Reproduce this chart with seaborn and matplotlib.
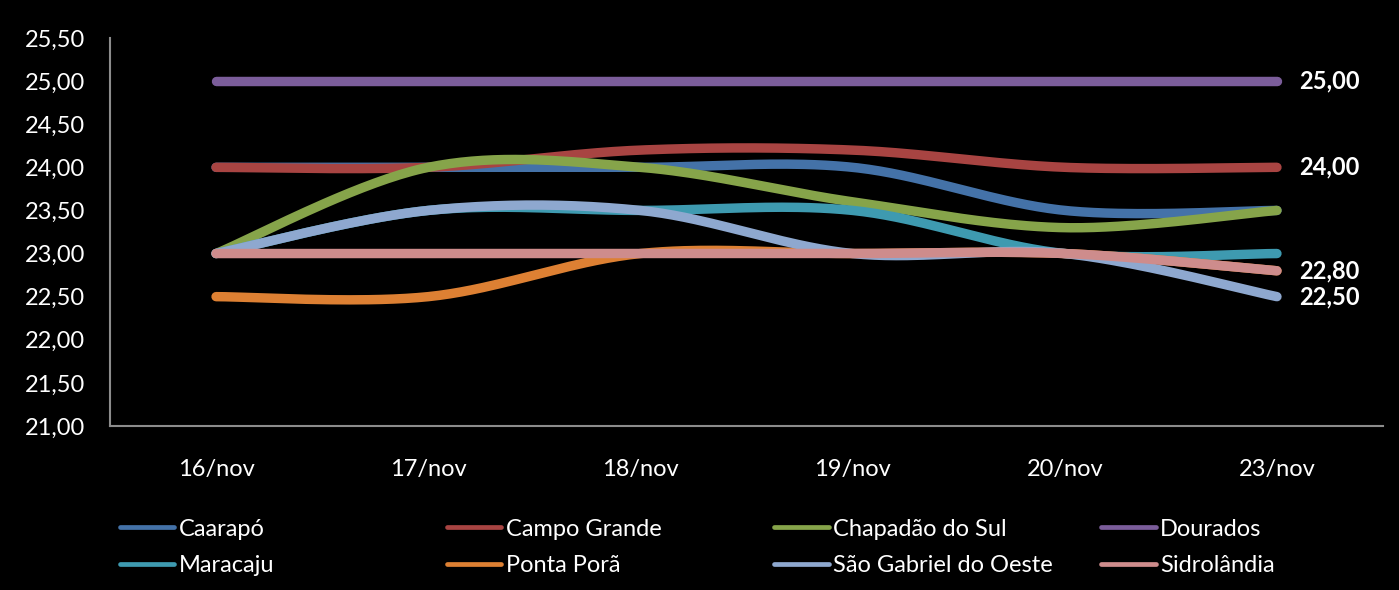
import numpy as np
import pandas as pd
import matplotlib
matplotlib.use("Agg")
import matplotlib.pyplot as plt
import seaborn as sns
from matplotlib.lines import Line2D

# Daily prices by city
dates = ["16/nov", "17/nov", "18/nov", "19/nov", "20/nov", "23/nov"]
cities = ["Caarapó", "Campo Grande", "Chapadão do Sul", "Dourados",
          "Maracaju", "Ponta Porã", "São Gabriel do Oeste", "Sidrolândia"]
caarapo = [24.00, 24.00, 24.00, 24.00, 23.50, 23.50]
campo_grande = [24.00, 24.00, 24.20, 24.20, 24.00, 24.00]
chapadao = [23.00, 24.00, 24.00, 23.60, 23.30, 23.50]
dourados = [25.00, 25.00, 25.00, 25.00, 25.00, 25.00]
maracaju = [23.00, 23.50, 23.50, 23.50, 23.00, 23.00]
ponta_pora = [22.50, 22.50, 23.00, 23.00, 23.00, 22.80]
sao_gabriel = [23.00, 23.50, 23.50, 23.00, 23.00, 22.50]
sidrolandia = [23.00, 23.00, 23.00, 23.00, 23.00, 22.80]
series = [caarapo, campo_grande, chapadao, dourados,
          maracaju, ponta_pora, sao_gabriel, sidrolandia]
labelled = ["Dourados", "Campo Grande", "Sidrolândia", "São Gabriel do Oeste"]

colors = ["#4472A8", "#A84442", "#86A44A", "#7B5D9A",
          "#3E9AB0", "#DD8033", "#8EA8CF", "#CE8C8C"]


def smooth(xs, ys, steps=40):
    """Bezier smoothing through every point (Catmull-Rom style control points)."""
    xs = np.asarray(xs, float)
    ys = np.asarray(ys, float)
    px = np.concatenate([[xs[0]], xs, [xs[-1]]])
    py = np.concatenate([[ys[0]], ys, [ys[-1]]])
    out_x, out_y = [], []
    t = np.linspace(0, 1, steps)
    for i in range(1, len(px) - 2):
        p0 = np.array([px[i], py[i]])
        p3 = np.array([px[i + 1], py[i + 1]])
        c1 = p0 + (np.array([px[i + 1], py[i + 1]]) - np.array([px[i - 1], py[i - 1]])) / 6
        c2 = p3 - (np.array([px[i + 2], py[i + 2]]) - np.array([px[i], py[i]])) / 6
        seg = ((1 - t)[:, None] ** 3 * p0 + 3 * ((1 - t) ** 2 * t)[:, None] * c1
               + 3 * ((1 - t) * t ** 2)[:, None] * c2 + (t ** 3)[:, None] * p3)
        if i > 1:
            seg = seg[1:]
        out_x.extend(seg[:, 0])
        out_y.extend(seg[:, 1])
    return out_x, out_y


rows = []
for name, vals in zip(cities, series):
    sx, sy = smooth(range(len(dates)), vals)
    for k, (a, b) in enumerate(zip(sx, sy)):
        rows.append({"order": k, "x": a, "preço": b, "cidade": name})
df = pd.DataFrame(rows)

sns.set_theme(style="dark")
plt.rcParams["font.family"] = ["Lato", "DejaVu Sans"]

fig = plt.figure(figsize=(13.99, 5.90), dpi=100, facecolor="black")
ax = fig.add_axes([0.0786, 0.278, 0.910, 0.6576])
ax.set_facecolor("black")

sns.lineplot(data=df, x="x", y="preço", hue="cidade", hue_order=cities,
             palette=colors, estimator=None, units="cidade", sort=False,
             linewidth=6.8, legend=False, ax=ax,
             solid_capstyle="round", solid_joinstyle="round")

ax.set_xlim(-0.5, len(dates) - 0.5)
ax.set_ylim(21, 25.5)
ax.set_yticks(np.arange(21, 25.51, 0.5))
ax.set_yticklabels([f"{v:.2f}".replace(".", ",") for v in np.arange(21, 25.51, 0.5)])
ax.set_xticks(range(len(dates)))
ax.set_xticklabels(dates)
ax.set_xlabel("")
ax.set_ylabel("")
ax.grid(False)
ax.tick_params(axis="y", colors="white", labelsize=17, length=0, pad=18)
ax.tick_params(axis="x", colors="white", labelsize=17, length=0, pad=24)

for side in ["top", "right"]:
    ax.spines[side].set_visible(False)
for side in ["left", "bottom"]:
    ax.spines[side].set_visible(True)
    ax.spines[side].set_color("#8C8C8C")
    ax.spines[side].set_linewidth(1.5)

# End-of-series value labels
for name, vals in zip(cities, series):
    if name in labelled:
        ax.annotate(f"{vals[-1]:.2f}".replace(".", ","),
                    xy=(len(dates) - 1, vals[-1]), xytext=(16, 0),
                    textcoords="offset points", va="center", ha="left",
                    color="white", fontsize=17, fontweight="bold")

# Legend: four columns of two entries each
col_x = [0.0855, 0.3195, 0.5535, 0.7872]
for c in range(4):
    idx = [c, c + 4]
    handles = [Line2D([0], [0], color=colors[i], linewidth=3.4,
                      solid_capstyle="round") for i in idx]
    leg = fig.legend(handles, [cities[i] for i in idx], loc="upper left",
                     bbox_to_anchor=(col_x[c], 0.121), ncol=1, frameon=False,
                     fontsize=17, handlelength=2.3, handletextpad=0.2,
                     labelspacing=0.65, borderaxespad=0, borderpad=0)
    for t in leg.get_texts():
        t.set_color("white")

fig.savefig("out.png", dpi=100, facecolor="black")
